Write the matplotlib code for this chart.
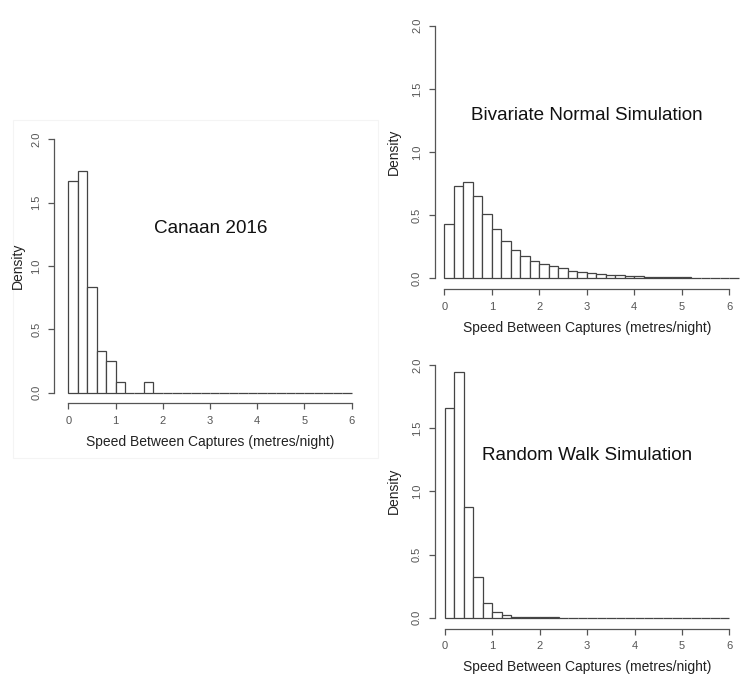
import matplotlib
matplotlib.use("Agg")
import matplotlib.pyplot as plt
from matplotlib.patches import Rectangle
import numpy as np

plt.rcParams['font.family'] = ['Liberation Sans', 'DejaVu Sans']

bin_width = 0.2
x_ticks = [0, 1, 2, 3, 4, 5, 6]
y_ticks = [0.0, 0.5, 1.0, 1.5, 2.0]
y_tick_labels = ["0.0", "0.5", "1.0", "1.5", "2.0"]
x_label = "Speed Between Captures (metres/night)"
y_label = "Density"

canaan_title = "Canaan 2016"
canaan_density = [1.667, 1.750, 0.833, 0.333, 0.250, 0.083, 0.0, 0.0, 0.083,
                  0.0, 0.0, 0.0, 0.0, 0.0, 0.0, 0.0, 0.0, 0.0, 0.0, 0.0,
                  0.0, 0.0, 0.0, 0.0, 0.0, 0.0, 0.0, 0.0, 0.0, 0.0]

bvn_title = "Bivariate Normal Simulation"
bvn_density = [0.427, 0.733, 0.765, 0.649, 0.512, 0.390, 0.292, 0.224, 0.179, 0.140,
               0.114, 0.094, 0.080, 0.058, 0.051, 0.041, 0.033, 0.027, 0.024, 0.018,
               0.016, 0.013, 0.011, 0.009, 0.008, 0.007, 0.006, 0.005, 0.004, 0.004,
               0.003]

rw_title = "Random Walk Simulation"
rw_density = [1.657, 1.947, 0.879, 0.319, 0.119, 0.047, 0.018, 0.008, 0.005, 0.003,
              0.002, 0.002, 0.001, 0.001, 0.001, 0.001, 0.001, 0.0005, 0.0, 0.0,
              0.0, 0.0, 0.0, 0.0, 0.0, 0.0, 0.0, 0.0, 0.0, 0.0]

W, H = 753, 683
fig = plt.figure(figsize=(W / 100, H / 100), dpi=100)
fig.patch.set_facecolor('white')

axis_col = '#555555'
bar_col = '#444444'
tick_col = '#555555'


def fx(px):
    return px / W


def fy(py):
    return 1 - py / H


# very faint image-crop border seen around the left panel in the reference
fig.patches.append(Rectangle((fx(13), fy(458)), (378 - 13) / W, (458 - 120) / H,
                             transform=fig.transFigure, fill=False,
                             edgecolor='#f4f4f4', linewidth=0.8))


def panel(density, title, yaxis_x, x0, x6, y0, y2, xaxis_y, title_xy, xlabel_xy, ylabel_xy):
    ppu_x = (x6 - x0) / 6.0
    ppu_y = (y0 - y2) / 2.0
    ax = fig.add_axes([fx(yaxis_x), fy(xaxis_y), (x6 - yaxis_x) / W, (xaxis_y - y2) / H])
    ax.set_xlim(-(x0 - yaxis_x) / ppu_x, 6)
    ax.set_ylim(-(xaxis_y - y0) / ppu_y, 2)
    ax.patch.set_alpha(0)
    edges = np.arange(len(density)) * bin_width
    ax.bar(edges, density, width=bin_width, align='edge', color='white',
           edgecolor=bar_col, linewidth=0.9, clip_on=False)
    for s in ['top', 'right']:
        ax.spines[s].set_visible(False)
    ax.spines['left'].set_bounds(0, 2)
    ax.spines['bottom'].set_bounds(0, 6)
    for s in ['left', 'bottom']:
        ax.spines[s].set_color(axis_col)
        ax.spines[s].set_linewidth(0.9)
    ax.set_xticks(x_ticks)
    ax.set_xticklabels([str(t) for t in x_ticks])
    ax.set_yticks(y_ticks)
    ax.set_yticklabels(y_tick_labels, rotation=90, va='center')
    ax.tick_params(axis='both', direction='out', length=4, width=0.9,
                   color=axis_col, labelcolor=tick_col, labelsize=8)
    ax.tick_params(axis='x', pad=5)
    ax.tick_params(axis='y', pad=5)
    fig.text(fx(title_xy[0]), fy(title_xy[1]), title, ha='center', va='center',
             fontsize=13.6, color='#111111')
    fig.text(fx(xlabel_xy[0]), fy(xlabel_xy[1]), x_label, ha='center', va='center',
             fontsize=10, color='#222222')
    fig.text(fx(ylabel_xy[0]), fy(ylabel_xy[1]), y_label, ha='center', va='center',
             fontsize=10, rotation=90, color='#222222')
    return ax


panel(canaan_density, canaan_title, 54, 68.3, 351.7, 392.7, 139.3, 403.3,
      (210.3, 228.3), (210, 441.7), (17.5, 266))
panel(bvn_density, bvn_title, 434.5, 444.3, 729.3, 278.3, 25.7, 289.3,
      (586.7, 115), (587.5, 328.3), (393.5, 152))
panel(rw_density, rw_title, 434.5, 445, 729.3, 617.7, 365, 628.7,
      (587.5, 455), (587, 666.7), (393.5, 491))

fig.savefig('out.png', dpi=100, facecolor='white')
